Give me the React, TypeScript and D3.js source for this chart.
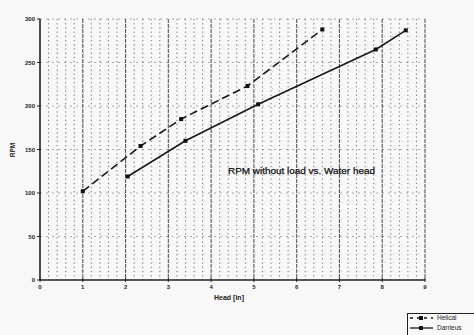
import React from "react";
import * as d3 from "d3";

const helicalHead = [1.0, 2.35, 3.3, 4.85, 6.6];
const helicalRpm = [102, 154, 185, 223, 288];
const darrieusHead = [2.05, 3.4, 5.1, 7.85, 8.55];
const darrieusRpm = [119, 160, 202, 265, 287];
const xTicks = [0, 1, 2, 3, 4, 5, 6, 7, 8, 9];
const yTicks = [0, 50, 100, 150, 200, 250, 300];
const seriesNames = ["Helical", "Darrieus"];

const W = 474;
const H = 335;
const font = "'Liberation Sans', Arial, sans-serif";

export default function App() {
  const x = d3.scaleLinear().domain([0, 9]).range([40, 425]);
  const y = d3.scaleLinear().domain([0, 300]).range([280, 19]);

  const line = d3
    .line<[number, number]>()
    .x((d) => x(d[0]))
    .y((d) => y(d[1]));

  const helical = helicalHead.map((h, i) => [h, helicalRpm[i]] as [number, number]);
  const darrieus = darrieusHead.map((h, i) => [h, darrieusRpm[i]] as [number, number]);

  // minor vertical grid every 0.2, horizontal every 10
  const minorX = d3.range(0, 45).map((i) => i * 0.2).filter((v) => Math.abs(v - Math.round(v)) > 0.01);
  const minorY = d3.range(1, 30).map((i) => i * 10).filter((v) => v % 50 !== 0);

  return (
    <svg
      width={W}
      height={H}
      style={{ position: "absolute", left: 0, top: 0, background: "#f8f8f8" }}
      fontFamily={font}
    >
      <rect x={0} y={0} width={W} height={H} fill="#f8f8f8" />

      {/* dotted graph-paper grid */}
      <g>
        {minorX.map((v) => (
          <line
            key={"mx" + v}
            x1={x(v)}
            x2={x(v)}
            y1={y(300)}
            y2={y(0)}
            stroke="#444"
            strokeWidth={1}
            strokeDasharray="1.2,3"
            opacity={0.75}
          />
        ))}
        {minorY.map((v) => (
          <line
            key={"my" + v}
            x1={x(0)}
            x2={x(9)}
            y1={y(v)}
            y2={y(v)}
            stroke="#888"
            strokeWidth={0.8}
            strokeDasharray="1,7.6"
            opacity={0.5}
          />
        ))}
        {yTicks.slice(1).map((v) => (
          <line
            key={"gy" + v}
            x1={x(0)}
            x2={x(9)}
            y1={y(v)}
            y2={y(v)}
            stroke="#777"
            strokeWidth={1}
            strokeDasharray="2,4"
            opacity={0.6}
          />
        ))}
        {xTicks.slice(1).map((v) => (
          <line
            key={"gx" + v}
            x1={x(v)}
            x2={x(v)}
            y1={y(300)}
            y2={y(0)}
            stroke="#333"
            strokeWidth={1.1}
            strokeDasharray="4,1"
            opacity={0.8}
          />
        ))}
      </g>

      {/* axes */}
      <line x1={x(0)} x2={x(0)} y1={y(300)} y2={y(0)} stroke="#222" strokeWidth={1.6} />
      <line x1={x(0)} x2={x(9)} y1={y(0)} y2={y(0)} stroke="#222" strokeWidth={1.6} />
      {yTicks.map((v) => (
        <g key={"yt" + v}>
          <line x1={x(0) - 3} x2={x(0)} y1={y(v)} y2={y(v)} stroke="#222" strokeWidth={1} />
          <text x={x(0) - 5} y={y(v)} dy="0.35em" textAnchor="end" fontSize={6} fontWeight="bold" fill="#222">
            {v}
          </text>
        </g>
      ))}
      {xTicks.map((v) => (
        <g key={"xt" + v}>
          <line x1={x(v)} x2={x(v)} y1={y(0) - 2} y2={y(0) + 2} stroke="#222" strokeWidth={1} />
          <text x={x(v)} y={289} textAnchor="middle" fontSize={6} fontWeight="bold" fill="#222">
            {v}
          </text>
        </g>
      ))}
      <text x={229} y={300} textAnchor="middle" fontSize={7} fontWeight="bold" fill="#222">
        Head [in]
      </text>
      <text
        transform={`translate(15,150) rotate(-90)`}
        textAnchor="middle"
        fontSize={6.5}
        fontWeight="bold"
        fill="#222"
      >
        RPM
      </text>

      {/* series */}
      <path d={line(helical) ?? ""} fill="none" stroke="#1a1a1a" strokeWidth={1.6} strokeDasharray="8,4" />
      <path d={line(darrieus) ?? ""} fill="none" stroke="#1a1a1a" strokeWidth={1.6} />
      {helical.map((d, i) => (
        <rect key={"hm" + i} x={x(d[0]) - 2} y={y(d[1]) - 2} width={4} height={4} fill="#111" />
      ))}
      {darrieus.map((d, i) => (
        <rect key={"dm" + i} x={x(d[0]) - 2} y={y(d[1]) - 2} width={4} height={4} fill="#111" />
      ))}

      <text
        x={228}
        y={174}
        fontSize={9.5}
        fill="#111"
        stroke="#111"
        strokeWidth={0.25}
        textLength={147}
        lengthAdjust="spacingAndGlyphs"
      >
        RPM without load vs. Water head
      </text>

      {/* legend */}
      <g>
        <rect x={407.5} y={313.5} width={70} height={30} fill="#f8f8f8" stroke="#222" strokeWidth={1} />
        <line x1={410} x2={433} y1={318} y2={318} stroke="#111" strokeWidth={1.3} strokeDasharray="3,4" />
        <rect x={419} y={316} width={4} height={4} fill="#111" />
        <text x={437} y={318} dy="0.35em" fontSize={6.5} fill="#222">
          {seriesNames[0]}
        </text>
        <line x1={410} x2={433} y1={328} y2={328} stroke="#111" strokeWidth={1.3} />
        <rect x={419} y={326} width={4} height={4} fill="#111" />
        <text x={437} y={328} dy="0.35em" fontSize={6.5} fill="#222">
          {seriesNames[1]}
        </text>
      </g>
    </svg>
  );
}
